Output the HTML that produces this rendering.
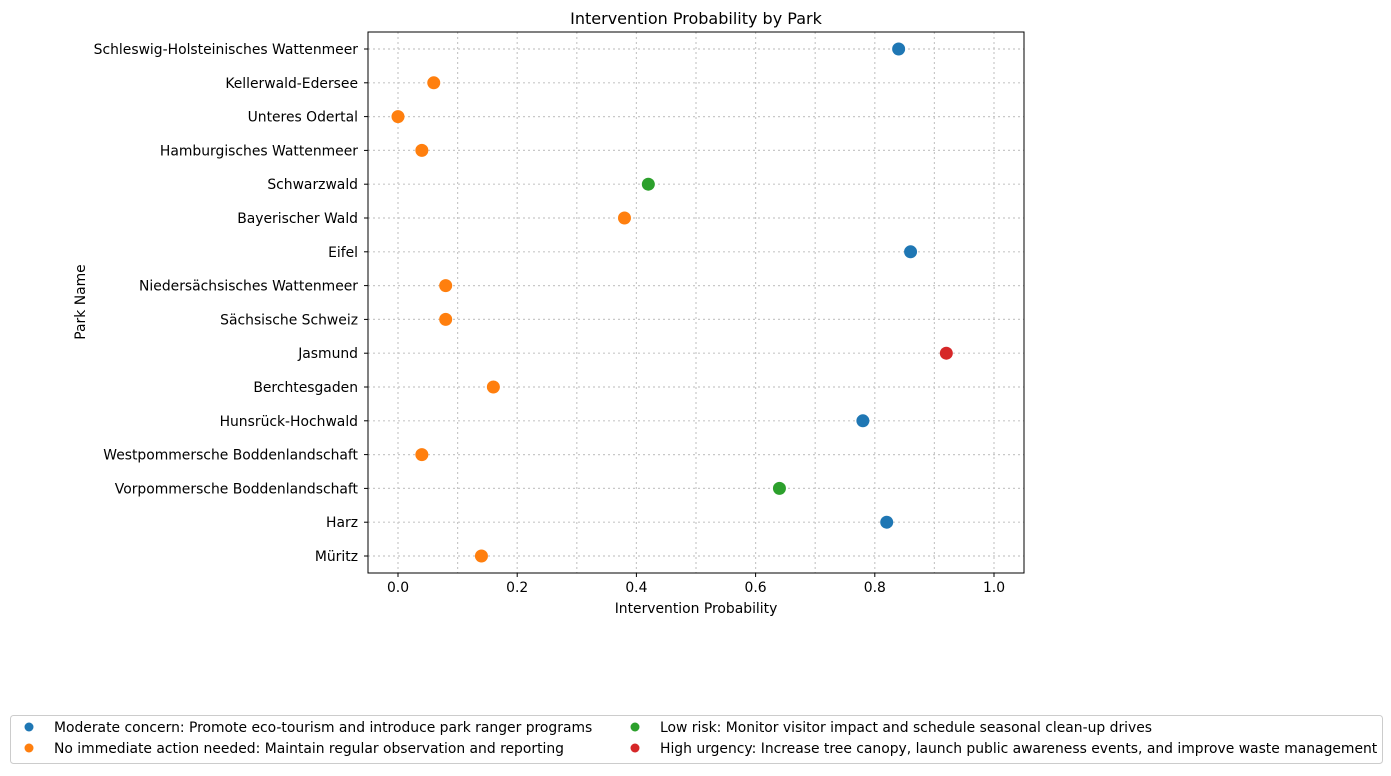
<!DOCTYPE html>
<html><head><meta charset="utf-8"><style>
body{margin:0;background:#fff;font-family:"Liberation Sans","DejaVu Sans",sans-serif;}
svg text{font-family:"DejaVu Sans","Liberation Sans",sans-serif;fill:#000}
</style></head><body>
<svg id="chart" width="1391" height="771" xmlns="http://www.w3.org/2000/svg">
<text x="696" y="24" font-size="16" text-anchor="middle">Intervention Probability by Park</text>
<g id="grid"></g>
<g id="ticks"></g>
<g id="points"></g>
<rect x="368" y="32" width="656" height="541" fill="none" stroke="#000" stroke-width="1"/>
<text x="696" y="613" font-size="13.9" text-anchor="middle">Intervention Probability</text>
<text x="85" y="302" font-size="13.9" text-anchor="middle" transform="rotate(-90 85 302)">Park Name</text>
<g>
<rect x="10.5" y="715.5" width="1372" height="48" fill="#fff" stroke="#ccc" rx="3"/>
<g><circle cx="29" cy="727" r="4.5" fill="#1f77b4"/><text x="54" y="732" font-size="13.9">Moderate concern: Promote eco-tourism and introduce park ranger programs</text></g>
<g><circle cx="29" cy="748" r="4.5" fill="#ff7f0e"/><text x="54" y="753" font-size="13.9">No immediate action needed: Maintain regular observation and reporting</text></g>
<g><circle cx="635" cy="727" r="4.5" fill="#2ca02c"/><text x="660" y="732" font-size="13.9">Low risk: Monitor visitor impact and schedule seasonal clean-up drives</text></g>
<g><circle cx="635" cy="748" r="4.5" fill="#d62728"/><text x="660" y="753" font-size="13.9">High urgency: Increase tree canopy, launch public awareness events, and improve waste management</text></g>
</g>
</svg>
<script>
const parks=["Schleswig-Holsteinisches Wattenmeer","Kellerwald-Edersee","Unteres Odertal","Hamburgisches Wattenmeer","Schwarzwald","Bayerischer Wald","Eifel","Niedersächsisches Wattenmeer","Sächsische Schweiz","Jasmund","Berchtesgaden","Hunsrück-Hochwald","Westpommersche Boddenlandschaft","Vorpommersche Boddenlandschaft","Harz","Müritz"];
const probs=[0.84,0.06,0.00,0.04,0.42,0.38,0.86,0.08,0.08,0.92,0.16,0.78,0.04,0.64,0.82,0.14];
const cats=["mod","no","no","no","low","no","mod","no","no","high","no","mod","no","low","mod","no"];
const xTicks=[0,0.2,0.4,0.6,0.8,1.0];
const xTickLabels=["0.0","0.2","0.4","0.6","0.8","1.0"];
const colors={mod:"#1f77b4",no:"#ff7f0e",low:"#2ca02c",high:"#d62728"};
const NS="http://www.w3.org/2000/svg";
const X=v=>398+v*596;
const Y=i=>49+i*(556-49)/(parks.length-1);
function mk(tag,attrs,parent){const e=document.createElementNS(NS,tag);for(const k in attrs)e.setAttribute(k,attrs[k]);parent.appendChild(e);return e;}
const grid=document.getElementById('grid'),ticks=document.getElementById('ticks'),pts=document.getElementById('points');
for(let k=0;k<=10;k++){const l=mk('line',{x1:X(k/10),x2:X(k/10),y1:32,y2:573,stroke:'#c8c8c8','stroke-dasharray':'2,3','stroke-width':1.2},grid);

}
parks.forEach((p,i)=>{const l=mk('line',{x1:368,x2:1024,y1:Y(i),y2:Y(i),stroke:'#c8c8c8','stroke-dasharray':'2,3','stroke-width':1.2},grid);


mk('line',{x1:364,x2:368,y1:Y(i),y2:Y(i),stroke:'#000'},ticks);
const t=mk('text',{x:358,y:Y(i)+5,'font-size':13.9,'text-anchor':'end'},ticks);t.textContent=p;


const c=mk('circle',{cx:X(probs[i]),cy:Y(i),r:6.5,fill:colors[cats[i]]},pts);

});
xTicks.forEach((v,i)=>{mk('line',{x1:X(v),x2:X(v),y1:573,y2:577,stroke:'#000'},ticks);
const t=mk('text',{x:X(v),y:592,'font-size':13.9,'text-anchor':'middle'},ticks);t.textContent=xTickLabels[i];

});
</script>
</body></html>
